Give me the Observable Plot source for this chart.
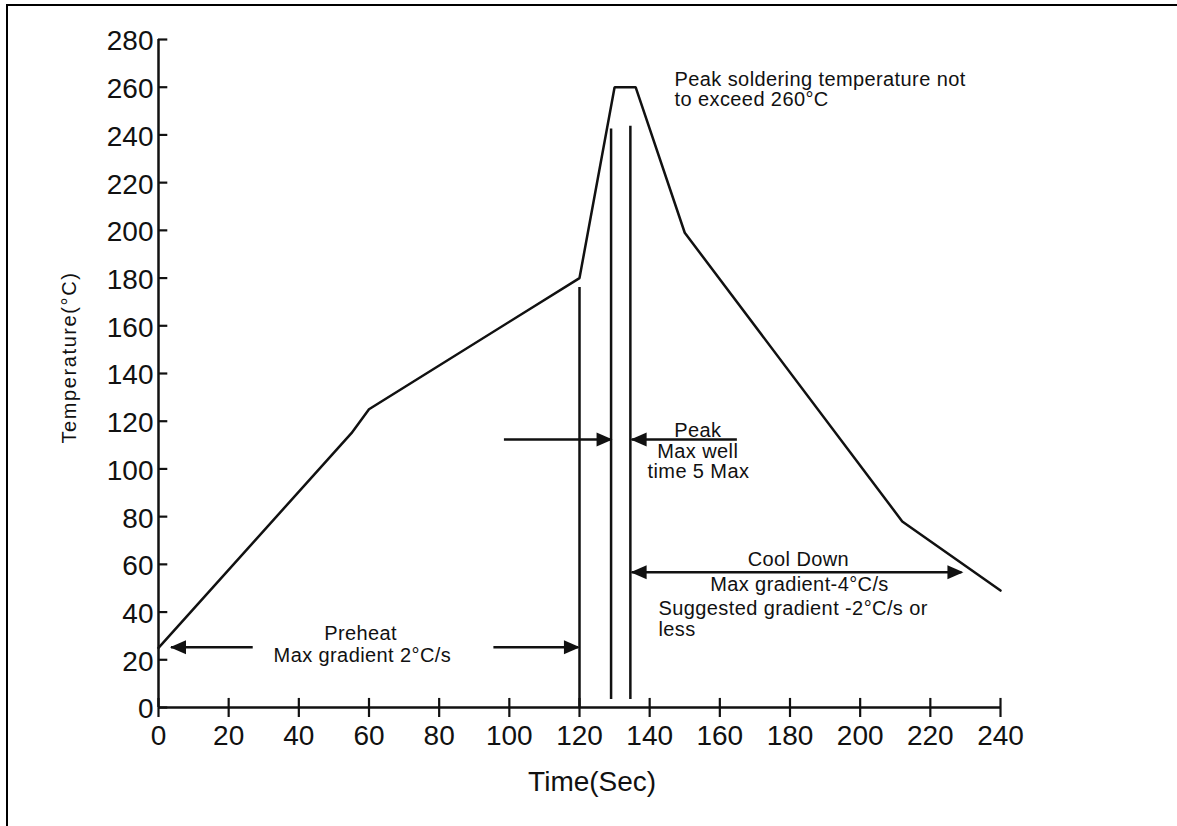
<!DOCTYPE html>
<html>
<head>
<meta charset="utf-8">
<script src="https://cdn.jsdelivr.net/npm/d3@7"></script>
<script src="https://cdn.jsdelivr.net/npm/@observablehq/plot@0.6"></script>
<style>
html, body { margin: 0; padding: 0; background: #fff; }
#wrap { position: relative; width: 1177px; height: 826px; overflow: hidden; }
#frame { position: absolute; left: 6px; top: 4px; right: -10px; bottom: -10px;
  border-top: 2.5px solid #000; border-left: 2.5px solid #000; pointer-events: none; }
</style>
</head>
<body>
<div id="wrap"><div id="chart"></div><div id="frame"></div></div>
<script>
// ---- data ----
const timeSec      = [0, 55, 60, 120, 130, 136, 150, 212, 240];
const temperatureC = [25, 115, 125, 180, 260, 260, 199, 78, 49];

const xTickValues = [0, 20, 40, 60, 80, 100, 120, 140, 160, 180, 200, 220, 240];
const yTickValues = [0, 20, 40, 60, 80, 100, 120, 140, 160, 180, 200, 220, 240, 260, 280];

// vertical marker lines
const markerX      = [120, 129, 134.5];
const markerBottom = [0, 3.4, 3.4];
const markerTop    = [176, 242.5, 243.6];

// horizontal arrows
const arrowFrom  = [3.7, 95.6, 98.6, 135, 135];
const arrowTo    = [27, 119.7, 129, 165, 229];
const arrowLevel = [25.3, 25.3, 112.3, 112.3, 56.7];
const headAtFrom = [true, false, false, true, true];
const headAtTo   = [false, true, true, false, true];

// annotation lines (baseline positions in data units)
const noteText = [
  "Peak soldering temperature not", "to exceed 260°C",
  "Peak", "Max well", "time 5 Max",
  "Cool Down", "Max gradient-4°C/s",
  "Suggested gradient -2°C/s or", "less",
  "Preheat", "Max gradient 2°C/s"
];
const noteX = [147.1, 147.1, 153.7, 153.7, 153.9, 182.4, 182.7, 142.5, 142.5, 57.6, 58.1];
const noteY = [260.7, 252.3, 113.3, 104.5, 96.0, 59.5, 48.9, 38.6, 30.0, 28.4, 19.0];
const noteAlign = ["start", "start", "middle", "middle", "middle", "middle", "middle", "start", "start", "middle", "middle"];

const xTitle = "Time(Sec)";
const yTitle = "Temperature(°C)";

// ---- build tables ----
const profile = timeSec.map((t, i) => ({t, c: temperatureC[i]}));
const markers = markerX.map((x, i) => ({x, y1: markerBottom[i], y2: markerTop[i]}));
const arrows = arrowFrom.map((x1, i) => ({x1, x2: arrowTo[i], y: arrowLevel[i]}));
const headsLeft = arrows.filter((a, i) => headAtFrom[i]).map(a => ({x: a.x1, y: a.y}));
const headsRight = arrows.filter((a, i) => headAtTo[i]).map(a => ({x: a.x2, y: a.y}));
const notes = noteText.map((text, i) => ({text, x: noteX[i], y: noteY[i], a: noteAlign[i]}));

// filled arrowhead symbols (tip at origin)
const headRightSym = {draw(ctx) { ctx.moveTo(1.5, 0); ctx.lineTo(-14.5, -7); ctx.lineTo(-14.5, 7); ctx.closePath(); }};
const headLeftSym  = {draw(ctx) { ctx.moveTo(-1.5, 0); ctx.lineTo(14.5, -7); ctx.lineTo(14.5, 7); ctx.closePath(); }};

const INK = "#111";
const font = "'Liberation Sans', Arial, Helvetica, sans-serif";

const chart = Plot.plot({
  width: 1177,
  height: 826,
  marginLeft: 158,
  marginRight: 177,
  marginTop: 39,
  marginBottom: 119,
  style: {fontFamily: font, fontSize: "20px", color: INK, background: "white", overflow: "visible"},
  x: {domain: [0, 240]},
  y: {domain: [0, 280]},
  marks: [
    // axes
    Plot.axisX(xTickValues, {tickSize: 10, tickPadding: 8, fontSize: 28, strokeWidth: 2.2, label: null}),
    Plot.ruleX(xTickValues, {y1: 0, y2: 3.8, stroke: INK, strokeWidth: 2.2}),
    Plot.axisY(yTickValues, {tickSize: 0, tickPadding: 5, fontSize: 28, dy: 2, label: null}),
    Plot.ruleY(yTickValues, {x1: 0, x2: 2.65, stroke: INK, strokeWidth: 2.2}),
    Plot.ruleY([0], {x1: 0, x2: 240, stroke: INK, strokeWidth: 2.5}),
    Plot.ruleX([0], {y1: 0, y2: 280, stroke: INK, strokeWidth: 2.5}),
    // titles
    Plot.text([xTitle], {x: 123.6, y: -34.8, text: d => d, fontSize: 28, lineAnchor: "bottom", textAnchor: "middle", fill: INK}),
    Plot.text([yTitle], {x: -25.4, y: 146.7, text: d => d, fontSize: 20, rotate: -90, lineAnchor: "middle", textAnchor: "middle", fill: INK}),
    // profile curve
    Plot.line(profile, {x: "t", y: "c", stroke: INK, strokeWidth: 2.5, strokeLinejoin: "miter", curve: "linear"}),
    // vertical markers
    Plot.ruleX(markers, {x: "x", y1: "y1", y2: "y2", stroke: INK, strokeWidth: 2.5}),
    // arrows
    Plot.ruleY(arrows, {x1: "x1", x2: "x2", y: "y", stroke: INK, strokeWidth: 2.5}),
    Plot.dot(headsLeft, {x: "x", y: "y", symbol: headLeftSym, fill: INK, stroke: "none"}),
    Plot.dot(headsRight, {x: "x", y: "y", symbol: headRightSym, fill: INK, stroke: "none"}),
    // annotations
    Plot.text(notes.filter(d => d.a === "start"), {x: "x", y: "y", text: "text", textAnchor: "start", lineAnchor: "bottom", fontSize: 20, fill: INK}),
    Plot.text(notes.filter(d => d.a === "middle"), {x: "x", y: "y", text: "text", textAnchor: "middle", lineAnchor: "bottom", fontSize: 20, fill: INK})
  ]
});

const noteSet = new Set(noteText);
d3.select(chart).selectAll("text")
  .filter(function () { return this.textContent === yTitle; })
  .style("letter-spacing", "1.6px");
d3.select(chart).selectAll("text")
  .filter(function () { return noteSet.has(this.textContent); })
  .style("letter-spacing", "0.4px");
document.getElementById("chart").appendChild(chart);
</script>
</body>
</html>
